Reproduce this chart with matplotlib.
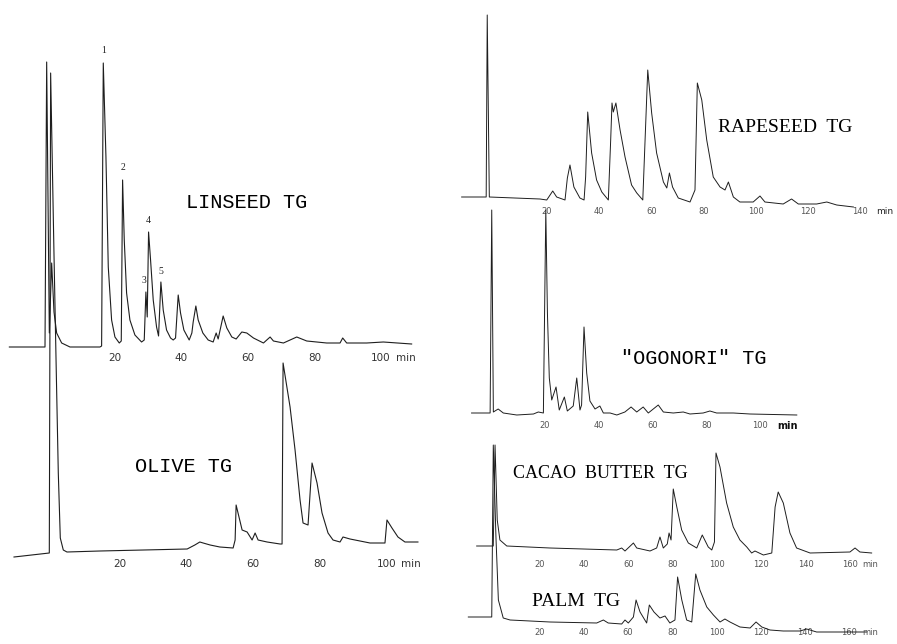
import matplotlib
matplotlib.use('Agg')
import matplotlib.pyplot as plt

# traces: retention time (min) and detector signal (arb. units)
linseed_t = [-11.6, -0.9, -0.4, 0.4, 1.1, 1.8, 2.6, 4.1, 6.6, 15.6, 16.1, 16.6, 17.4, 18.1, 19.1, 20.1,
             21.4, 22.0, 22.4, 22.9, 23.6, 24.6, 26.1, 28.1, 28.9, 29.4, 29.8, 30.2, 30.8, 31.6, 32.6,
             33.2, 33.9, 34.6, 35.6, 36.8, 37.6, 38.3, 39.1, 39.8, 40.8, 42.4, 43.2, 43.6, 44.4, 45.1,
             46.5, 48.1, 49.6, 50.5, 51.1, 52.6, 53.7, 55.2, 56.5, 58.2, 59.7, 61.7, 64.7, 66.7, 67.7,
             70.7, 74.7, 77.7, 83.7, 87.7, 88.5, 89.7, 95.7, 100.7, 109.2]
linseed_h = [0, 0, 285, 14, 84, 35, 14, 4, 0, 0, 1, 284, 190, 80, 27, 10,
             4, 6, 167, 107, 54, 27, 12, 5, 7, 55, 30, 115, 87, 47, 20,
             11, 65, 37, 17, 9, 7, 9, 52, 34, 17, 7, 14, 25, 41, 27,
             14, 7, 5, 14, 8, 31, 19, 10, 8, 15, 14, 9, 4, 10, 6,
             4, 10, 6, 4, 4, 9, 4, 4, 5, 3]
linseed_peak_no = ['1', '2', '3', '4', '5']
linseed_peak_t = [16.6, 22.4, 28.9, 30.2, 33.9]
linseed_peak_h = [292, 175, 62, 122, 71]

olive_t = [-11.8, -1.2, -0.8, 0.2, 0.9, 1.5, 2.1, 3.0, 4.1, 14.0, 40.2, 42.5, 44.0, 45.0, 47.1, 50.0,
           54.0, 54.6, 54.9, 56.7, 58.2, 59.7, 60.6, 61.5, 64.2, 68.1, 68.7, 69.0, 71.1, 72.6, 74.1,
           75.0, 76.5, 77.7, 79.2, 80.7, 82.5, 84.0, 86.1, 87.0, 89.1, 92.1, 95.1, 99.6, 100.2,
           101.7, 103.5, 105.6, 109.5]
olive_h = [-4, 0, 480, 300, 180, 80, 15, 3, 1, 2, 4, 8, 11, 10, 8, 6,
           5, 13, 48, 23, 21, 13, 20, 13, 11, 9, 9, 190, 146, 103, 53,
           30, 28, 90, 70, 40, 20, 13, 11, 16, 14, 12, 10, 10, 33,
           25, 16, 11, 11]

rapeseed_t = [-12.7, -3.3, -2.9, -2.1, 17.3, 19.9, 22.2, 23.7, 26.9, 27.8, 28.8, 30.3, 32.6, 34.2,
              34.8, 35.6, 37.1, 39.0, 41.0, 43.5, 44.4, 44.9, 45.4, 46.4, 48.0, 49.9, 52.4, 54.4,
              56.7, 58.6, 60.1, 62.0, 64.6, 65.9, 66.9, 68.1, 70.3, 74.8, 76.7, 77.6, 79.3, 81.2,
              83.7, 86.3, 88.2, 89.5, 91.4, 93.9, 99.0, 101.6, 103.5, 110.5, 113.7, 116.3, 123.3,
              127.2, 131.0, 137.4]
rapeseed_h = [0, 0, 182, 0, -2, -3, 6, 0, -3, 19, 32, 10, -1, -3,
              20, 85, 44, 17, 5, -3, 57, 94, 85, 94, 67, 40, 12, 4,
              -3, 127, 84, 44, 15, 9, 24, 10, -1, -5, 7, 114, 97, 57,
              20, 10, 7, 15, 0, -5, -5, 1, -5, -7, -2, -7, -7,
              -5, -8, -10]

ogonori_t = [-7.3, -0.4, 0.2, 0.8, 2.6, 4.5, 9.5, 15.7, 17.5, 19.4, 20.3, 20.9, 21.6, 22.5, 24.1,
             25.3, 27.2, 28.3, 30.5, 31.8, 33.0, 33.6, 34.5, 35.5, 36.7, 38.6, 40.4, 41.7, 44.2,
             46.7, 49.7, 52.0, 54.1, 56.5, 58.4, 62.1, 64.0, 67.7, 71.4, 73.9, 78.8, 81.3, 83.8,
             90.0, 96.2, 113.6]
ogonori_h = [0, 0, 203, 1, 4, 0, -2, -1, 1, 0, 203, 100, 35, 13, 26,
             3, 16, 2, 7, 35, 3, 8, 86, 40, 12, 4, 7, 0, 0,
             -2, 1, 6, 1, 6, 0, 8, 1, 0, 1, -1, 0, 2, 0,
             0, -1, -2]

cacao_t = [-8.6, -1.1, -0.3, 0.7, 1.9, 5.0, 24.5, 54.7, 56.9, 58.4, 62.2, 63.7, 69.7, 72.7, 74.2,
           75.7, 77.5, 78.3, 79.2, 80.2, 81.8, 84.0, 87.0, 90.8, 93.3, 96.0, 97.6, 98.8, 99.5,
           101.3, 104.3, 107.3, 110.3, 113.4, 115.6, 117.1, 120.9, 124.7, 126.2, 127.6, 129.9,
           132.9, 135.9, 142.0, 160.0, 162.3, 164.5, 169.8]
cacao_h = [1, 1, 102, 27, 7, 1, -1, -3, -1, -4, 4, -1, -4, -1, 10,
           -1, 3, 14, 7, 58, 40, 17, 4, -1, 12, 0, -3, 5, 94,
           80, 44, 20, 7, 0, -6, -4, -8, -6, 40, 55, 44,
           14, -1, -6, -5, -1, -5, -6]

palm_t = [-12.3, -1.7, -1.0, 0.2, 1.3, 3.5, 6.6, 24.7, 45.8, 48.8, 51.0, 57.1, 58.6, 60.1, 62.4,
          63.6, 65.4, 68.4, 69.6, 71.7, 74.4, 76.7, 78.9, 81.2, 82.4, 84.3, 86.5, 88.8, 90.6,
          92.5, 95.6, 98.6, 101.6, 103.8, 106.1, 110.6, 115.2, 117.9, 120.5, 124.2, 130.2,
          137.8, 140.8, 145.3, 168.0]
palm_h = [0, 0, 172, 80, 17, -1, -3, -5, -6, -3, -6, -7, -3, -6, 0,
          17, 5, -6, 12, 5, -1, 1, -6, -3, 40, 17, -3, -5, 43,
          27, 10, 2, -5, -2, -5, -10, -11, -5, -10, -13, -14,
          -14, -12, -15, -15]

left_ticks = [20, 40, 60, 80, 100]
right_ticks = [20, 40, 60, 80, 100, 120, 140, 160]

W, H = 897, 644
fig = plt.figure(figsize=(W / 100, H / 100), dpi=100)
fig.patch.set_facecolor('white')


def add_panel(x0, s, y0, tlim, hlim, ticks, pad, size, color):
    # x0: pixel of t=0, s: pixels per minute, y0: pixel row of the baseline
    left = (x0 + s * tlim[0]) / W
    width = s * (tlim[1] - tlim[0]) / W
    bottom = 1 - (y0 - hlim[0]) / H
    height = (hlim[1] - hlim[0]) / H
    ax = fig.add_axes([left, bottom, width, height])
    ax.set_xlim(tlim)
    ax.set_ylim(hlim)
    ax.patch.set_alpha(0)
    for sp in ax.spines.values():
        sp.set_color('none')
    ax.spines['bottom'].set_position(('data', 0))
    ax.set_yticks([])
    ax.set_xticks(ticks)
    ax.set_xticklabels([str(t) for t in ticks])
    ax.tick_params(axis='x', length=0, pad=pad, labelsize=size, labelcolor=color)
    return ax


def unit_label(ax, t, pad, size, color, **kw):
    # "min" sits on the same line as the tick labels
    ax.annotate('min', xy=(t, 0), xytext=(0, -pad), textcoords='offset points',
                ha='center', va='top', fontsize=size, color=color, **kw)


mono = ['Liberation Mono', 'DejaVu Sans Mono']
serif = ['Liberation Serif', 'DejaVu Serif']
lc = '#1e1e1e'

# LINSEED
ax = add_panel(48, 3.33, 347, (-14, 112), (-10, 300), left_ticks, 4.0, 7.5, '#333333')
ax.plot(linseed_t, linseed_h, color=lc, lw=0.8, clip_on=False)
for lab, t, h in zip(linseed_peak_no, linseed_peak_t, linseed_peak_h):
    ax.text(t, h, lab, ha='center', va='bottom', fontsize=7, family=serif, color='#222222')
ax.text(59.5, 144, 'LINSEED TG', ha='center', va='center', fontsize=14.6, family=mono)
unit_label(ax, 107.5, 4.0, 7.5, '#333333')

# OLIVE
ax = add_panel(53.3, 3.33, 553, (-14, 112), (-10, 490), left_ticks, 4.0, 7.5, '#333333')
ax.plot(olive_t, olive_h, color=lc, lw=0.8, clip_on=False)
ax.text(39.2, 86, 'OLIVE TG', ha='center', va='center', fontsize=14.6, family=mono)
unit_label(ax, 107.5, 4.0, 7.5, '#333333')

# RAPESEED
ax = add_panel(494.8, 2.61, 197, (-14, 150), (-12, 190), right_ticks[:7], 7.0, 6, '#555555')
ax.plot(rapeseed_t, rapeseed_h, color=lc, lw=0.7, clip_on=False)
ax.text(111.2, 70, 'RAPESEED  TG', ha='center', va='center', fontsize=14, family=serif)
unit_label(ax, 149.5, 7.0, 6.5, '#222222')

# OGONORI
ax = add_panel(491.2, 2.69, 413, (-9, 116), (-10, 210), left_ticks, 5.8, 6, '#555555')
ax.plot(ogonori_t, ogonori_h, color=lc, lw=0.7, clip_on=False)
ax.text(75.4, 55, '"OGONORI" TG', ha='center', va='center', fontsize=14.6, family=mono)
unit_label(ax, 110, 5.8, 7, '#111111', weight='bold')

# CACAO BUTTER
ax = add_panel(495.7, 2.214, 547, (-10, 172), (-12, 110), right_ticks, 9.4, 6, '#555555')
ax.plot(cacao_t, cacao_h, color=lc, lw=0.7, clip_on=False)
ax.text(47.1, 74, 'CACAO  BUTTER  TG', ha='center', va='center', fontsize=13, family=serif)
unit_label(ax, 169, 9.4, 6, '#555555')

# PALM
ax = add_panel(495.5, 2.21, 617, (-14, 170), (-16, 180), right_ticks, 8.0, 6, '#555555')
ax.plot(palm_t, palm_h, color=lc, lw=0.7, clip_on=False)
ax.text(36.3, 15.3, 'PALM  TG', ha='center', va='center', fontsize=14, family=serif)
unit_label(ax, 169.5, 8.0, 6, '#555555')

fig.savefig('out.png', dpi=100, facecolor='white')
